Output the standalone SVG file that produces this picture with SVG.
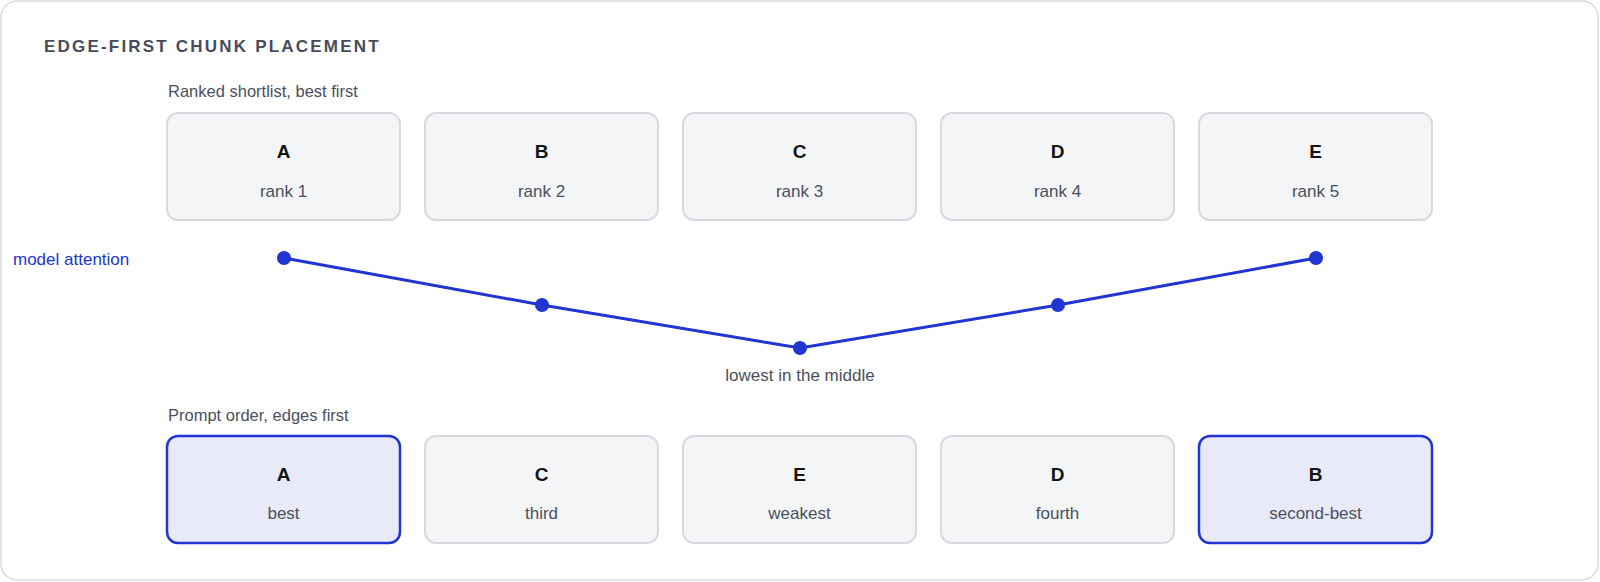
<svg xmlns="http://www.w3.org/2000/svg" width="1600" height="582" viewBox="0 0 1600 582">
<style>
.t{font-family:"Liberation Sans",Arial,sans-serif}
.title{font-size:17px;font-weight:bold;fill:#474c5c;letter-spacing:2.2px}
.lbl{font-size:16.5px;fill:#4b5060}
.box{fill:#f4f5f7;stroke:#d8dae2;stroke-width:2}
.hi{fill:#e8eaf8;stroke:#2035d1;stroke-width:2.5}
.k{font-size:19px;font-weight:bold;fill:#141414;text-anchor:middle}
.s{font-size:17px;fill:#4b5060;text-anchor:middle}
.dot{fill:#2035d1}
</style>
<rect x="1" y="1" width="1597" height="579" rx="16" fill="#fff" stroke="#d8dae2" stroke-width="1.5"/>
<text class="t title" x="44" y="52">EDGE-FIRST CHUNK PLACEMENT</text>
<text class="t lbl" x="168" y="97">Ranked shortlist, best first</text>
<g id="rA"><rect class="box" x="167" y="113" width="233" height="107" rx="11"/><text class="t k" x="283.5" y="158">A</text><text class="t s" x="283.5" y="197">rank 1</text></g>
<g id="rB"><rect class="box" x="425" y="113" width="233" height="107" rx="11"/><text class="t k" x="541.5" y="158">B</text><text class="t s" x="541.5" y="197">rank 2</text></g>
<g id="rC"><rect class="box" x="683" y="113" width="233" height="107" rx="11"/><text class="t k" x="799.5" y="158">C</text><text class="t s" x="799.5" y="197">rank 3</text></g>
<g id="rD"><rect class="box" x="941" y="113" width="233" height="107" rx="11"/><text class="t k" x="1057.5" y="158">D</text><text class="t s" x="1057.5" y="197">rank 4</text></g>
<g id="rE"><rect class="box" x="1199" y="113" width="233" height="107" rx="11"/><text class="t k" x="1315.5" y="158">E</text><text class="t s" x="1315.5" y="197">rank 5</text></g>
<text class="t" x="13" y="265" font-size="17" fill="#2035d1">model attention</text>
<g id="connectors">
<polyline points="284,258 542,305 800,348 1058,305 1316,258" fill="none" stroke="#2035d1" stroke-width="3"/>
<circle class="dot" cx="284" cy="258" r="7"/>
<circle class="dot" cx="542" cy="305" r="7"/>
<circle class="dot" cx="800" cy="348" r="7"/>
<circle class="dot" cx="1058" cy="305" r="7"/>
<circle class="dot" cx="1316" cy="258" r="7"/>
</g>
<text class="t s" x="800" y="381">lowest in the middle</text>
<text class="t lbl" x="168" y="421">Prompt order, edges first</text>
<g id="pA"><rect class="hi" x="167" y="436" width="233" height="107" rx="11"/><text class="t k" x="283.5" y="481">A</text><text class="t s" x="283.5" y="519">best</text></g>
<g id="pC"><rect class="box" x="425" y="436" width="233" height="107" rx="11"/><text class="t k" x="541.5" y="481">C</text><text class="t s" x="541.5" y="519">third</text></g>
<g id="pE"><rect class="box" x="683" y="436" width="233" height="107" rx="11"/><text class="t k" x="799.5" y="481">E</text><text class="t s" x="799.5" y="519">weakest</text></g>
<g id="pD"><rect class="box" x="941" y="436" width="233" height="107" rx="11"/><text class="t k" x="1057.5" y="481">D</text><text class="t s" x="1057.5" y="519">fourth</text></g>
<g id="pB"><rect class="hi" x="1199" y="436" width="233" height="107" rx="11"/><text class="t k" x="1315.5" y="481">B</text><text class="t s" x="1315.5" y="519">second-best</text></g>
</svg>
